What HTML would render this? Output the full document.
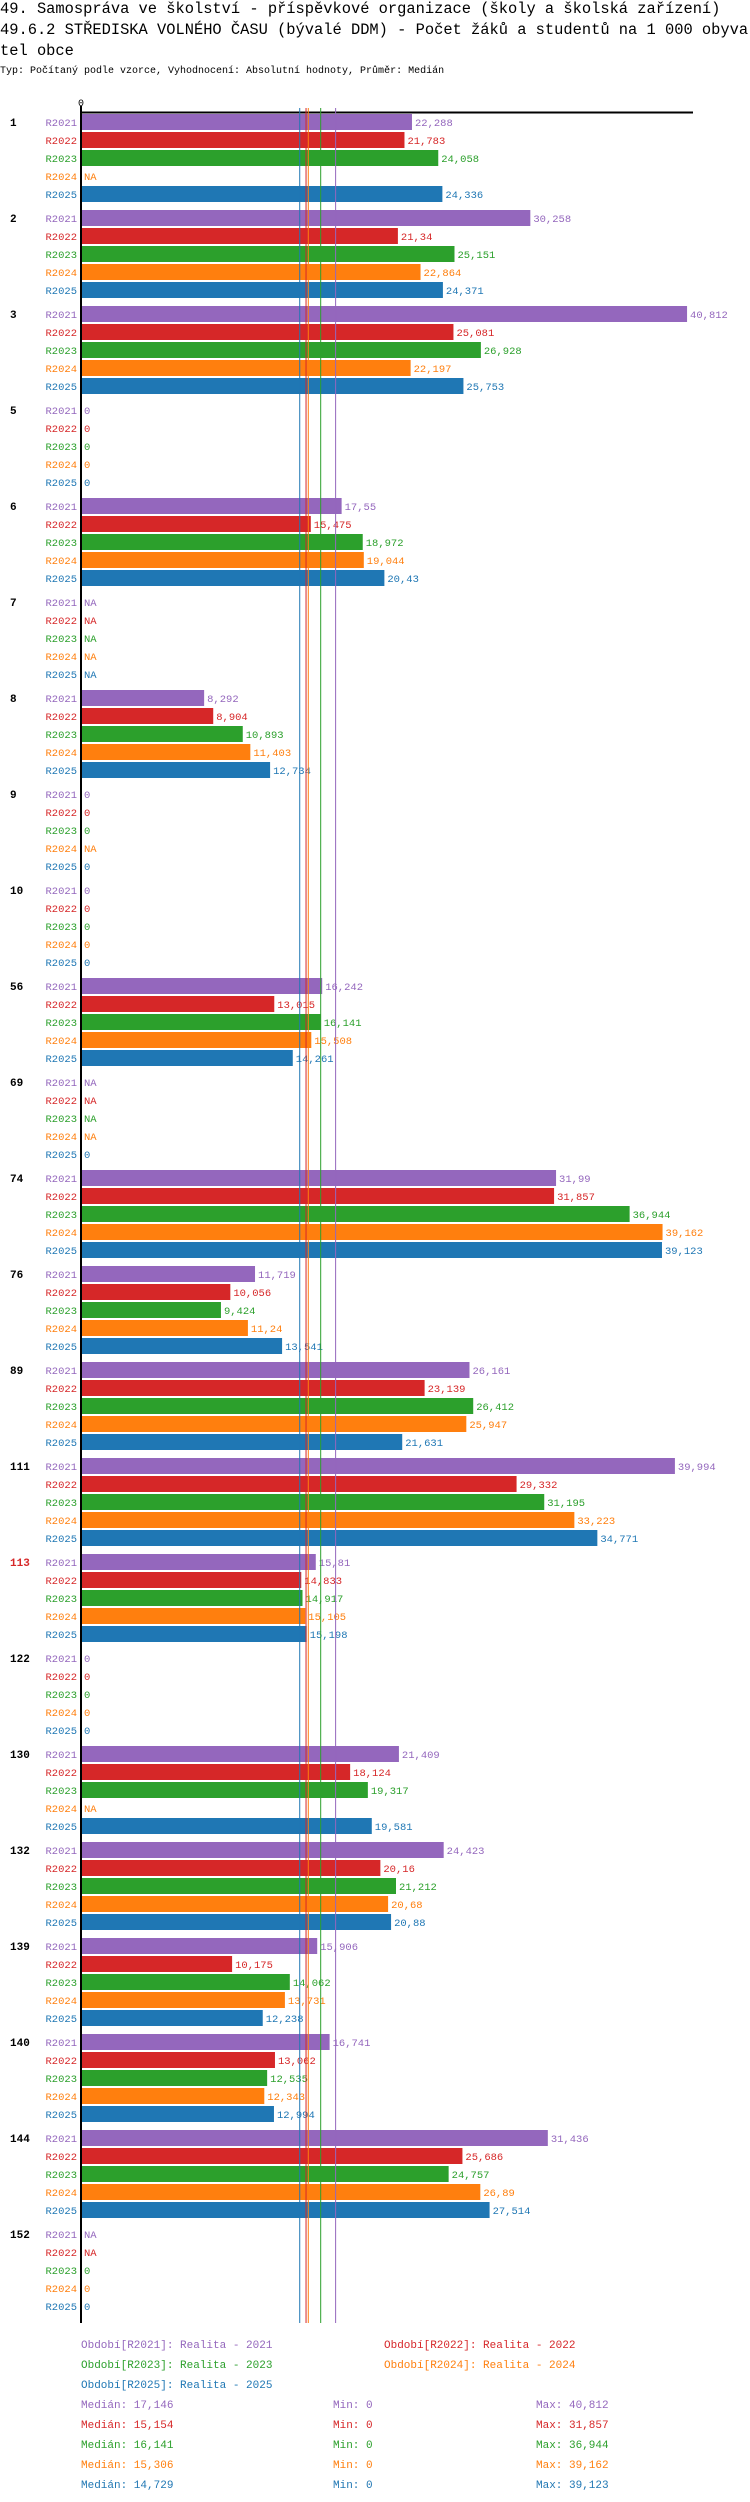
<!DOCTYPE html>
<html><head><meta charset="utf-8">
<style>
body{margin:0;background:#fff;width:750px;height:2502px;overflow:hidden;font-family:"Liberation Mono","DejaVu Sans Mono",monospace}
.t{position:absolute;left:0;font-size:15.4px;white-space:nowrap;color:#000}
.s{position:absolute;left:0;top:66px;font-size:10px;white-space:nowrap}
svg{position:absolute;left:0;top:0}
svg text{font-family:"Liberation Mono","DejaVu Sans Mono",monospace}
</style></head><body>
<div class="t" style="top:0px">49. Samospráva ve školství - příspěvkové organizace (školy a školská zařízení)</div>
<div class="t" style="top:21px">49.6.2 STŘEDISKA VOLNÉHO ČASU (bývalé DDM) - Počet žáků a studentů na 1 000 obyva</div>
<div class="t" style="top:42px">tel obce</div>
<div class="s">Typ: Počítaný podle vzorce, Vyhodnocení: Absolutní hodnoty, Průměr: Medián</div>
<svg id="chart" width="750" height="2502"></svg>
<script>
const groups=["1","2","3","5","6","7","8","9","10","56","69","74","76","89","111","113","122","130","132","139","140","144","152"];
const series=["R2021","R2022","R2023","R2024","R2025"];
const colors=["#9467bd","#d62728","#2ca02c","#ff7f0e","#1f77b4"];
const v2021=[22.288,30.258,40.812,0,17.55,null,8.292,0,0,16.242,null,31.99,11.719,26.161,39.994,15.81,0,21.409,24.423,15.906,16.741,31.436,null];
const v2022=[21.783,21.34,25.081,0,15.475,null,8.904,0,0,13.015,null,31.857,10.056,23.139,29.332,14.833,0,18.124,20.16,10.175,13.062,25.686,null];
const v2023=[24.058,25.151,26.928,0,18.972,null,10.893,0,0,16.141,null,36.944,9.424,26.412,31.195,14.917,0,19.317,21.212,14.062,12.535,24.757,0];
const v2024=[null,22.864,22.197,0,19.044,null,11.403,null,0,15.508,null,39.162,11.24,25.947,33.223,15.105,0,null,20.68,13.731,12.343,26.89,0];
const v2025=[24.336,24.371,25.753,0,20.43,null,12.734,0,0,14.261,0,39.123,13.541,21.631,34.771,15.198,0,19.581,20.88,12.238,12.994,27.514,0];
const values=[v2021,v2022,v2023,v2024,v2025];
const medians=[17.146,15.154,16.141,15.306,14.729];
const mins=[0,0,0,0,0];
const maxs=[40.812,31.857,36.944,39.162,39.123];
const legendNames=["Období[R2021]: Realita - 2021","Období[R2022]: Realita - 2022","Období[R2023]: Realita - 2023","Období[R2024]: Realita - 2024","Období[R2025]: Realita - 2025"];

const NS="http://www.w3.org/2000/svg";
const svg=document.getElementById('chart');
const X0=81,SC=14.85,Y0=114,GP=96,RP=18,BH=16;
const xs=v=>X0+v*SC;
const fmt=v=>String(v).replace('.',',');
function mk(tag,attrs,txt){const e=document.createElementNS(NS,tag);for(const k in attrs)e.setAttribute(k,attrs[k]);if(txt!==undefined)e.textContent=txt;svg.appendChild(e);return e;}
const endY=Y0+groups.length*GP+1;
let a=mk('line',{x1:X0,y1:112.5,x2:693,y2:112.5,stroke:'#000','stroke-width':2});


a=mk('line',{x1:X0,y1:106,x2:X0,y2:endY,stroke:'#000','stroke-width':2});


a=mk('text',{x:X0,y:106,'font-size':10,'text-anchor':'middle'},'0');


groups.forEach((g,gi)=>{
  const gy=Y0+gi*GP;
  const gl=mk('text',{x:10,y:gy+12,'font-size':11,'font-weight':'bold',fill:g==='113'?'#d62728':'#000'},g);
  
  
  series.forEach((s,si)=>{
    const ry=gy+si*RP;
    const lab=mk('text',{x:77,y:ry+12,'font-size':10.5,'text-anchor':'end',fill:colors[si]},s);
    
    
    const v=values[si][gi];
    let tx=X0+3,t='NA';
    if(v!==null){
      if(v>0){
        const r=mk('rect',{x:X0+1,y:ry,width:xs(v)-X0-1,height:BH,fill:colors[si]});
        
        
      }
      tx=xs(v)+3;t=fmt(v);
    }
    const vl=mk('text',{x:tx,y:ry+12,'font-size':10.5,fill:colors[si]},t);
    
    
  });
});
medians.forEach((m,i)=>{
  const l=mk('line',{x1:xs(m),y1:108,x2:xs(m),y2:endY,stroke:colors[i],'stroke-width':1});
  
  
});
const lpos=[[81,2348],[384,2348],[81,2368],[384,2368],[81,2388]];
legendNames.forEach((n,i)=>{
  const e=mk('text',{x:lpos[i][0],y:lpos[i][1],'font-size':11,fill:colors[i]},n);
  
  
});
medians.forEach((m,i)=>{
  const y=2408+i*20;
  let e=mk('text',{x:81,y:y,'font-size':11,fill:colors[i]},'Medián: '+fmt(m));
  
  
  e=mk('text',{x:333,y:y,'font-size':11,fill:colors[i]},'Min: '+fmt(mins[i]));
  
  
  e=mk('text',{x:536,y:y,'font-size':11,fill:colors[i]},'Max: '+fmt(maxs[i]));
  
  
});
</script>
</body></html>
